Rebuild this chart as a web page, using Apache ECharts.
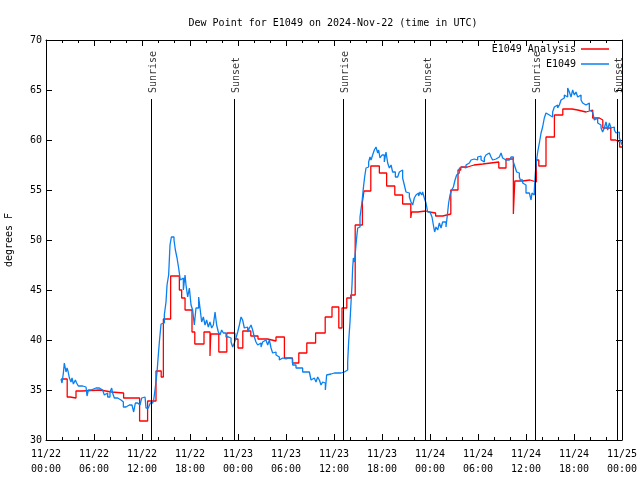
<!DOCTYPE html>
<html>
<head>
<meta charset="utf-8">
<script src="https://cdn.jsdelivr.net/npm/echarts@6/dist/echarts.min.js"></script>
<style>html,body{margin:0;padding:0;background:#fff;}#c{width:640px;height:480px;}</style>
</head>
<body>
<div id="c"></div>
<script>
// Hours since 2024-11-22 00:00 UTC
const analysisHours = [1.9, 2.65, 3.0, 3.75, 4.5, 6.75, 8.2, 9.7, 11.7, 12.7, 13.75, 14.4, 14.67, 15.58, 16.67, 16.96, 17.38, 18.25, 18.6, 19.75, 20.5, 20.6, 21.6, 22.6, 23.6, 24.0, 24.6, 25.6, 26.5, 27.7, 28.75, 29.8, 30.8, 31.6, 32.6, 33.7, 34.9, 35.75, 36.6, 37.0, 37.6, 38.1, 38.65, 39.55, 39.75, 40.6, 41.67, 42.58, 43.6, 44.58, 45.6, 45.7, 46.46, 47.5, 47.9, 48.7, 49.6, 50.6, 51.5, 51.85, 52.7, 53.5, 54.6, 56.6, 57.5, 58.42, 58.6, 59.6, 60.5, 61.3, 61.6, 62.5, 63.55, 64.6, 65.75, 66.45, 67.5, 68.33, 69.17, 69.6, 70.6, 71.2, 71.7, 72.0];
const analysisValues = [36.1, 34.3, 34.2, 34.9, 35.0, 34.8, 34.7, 34.2, 31.9, 33.9, 36.9, 36.3, 42.1, 46.4, 45.0, 44.2, 43.0, 40.8, 39.6, 40.8, 38.4, 40.6, 38.8, 40.7, 40.1, 39.2, 40.9, 40.4, 40.1, 39.9, 40.3, 38.2, 37.7, 38.7, 39.7, 40.7, 42.3, 43.3, 41.2, 43.2, 44.2, 44.5, 51.5, 53.8, 54.9, 57.4, 56.7, 55.4, 54.5, 53.6, 52.2, 52.8, 52.9, 52.8, 52.7, 52.4, 52.6, 55.0, 57.0, 57.3, 57.5, 57.6, 57.8, 57.2, 58.1, 52.6, 55.9, 56.0, 55.8, 58.0, 57.4, 60.3, 62.5, 63.1, 63.0, 62.8, 63.0, 62.2, 62.0, 61.2, 60.0, 59.8, 59.3, 59.3];

const obsHours = [1.88,2.0,2.17,2.29,2.42,2.5,2.63,2.75,2.92,3.13,3.25,3.42,3.67,3.83,4.04,4.58,5.0,5.13,5.29,5.63,6.25,6.67,7.08,7.29,7.5,7.71,8.0,8.21,8.33,8.54,8.96,9.38,9.67,10.0,10.42,10.75,10.96,11.17,11.46,11.75,11.96,12.17,12.38,12.5,12.79,13.04,13.33,13.46,13.67,13.88,14.04,14.17,14.38,14.58,14.79,15.0,15.13,15.33,15.5,15.67,15.83,16.0,16.17,16.38,16.58,16.79,16.96,17.17,17.38,17.5,17.71,17.92,18.13,18.33,18.54,18.75,19.08,19.25,19.46,19.67,19.88,20.08,20.29,20.5,20.71,20.92,21.13,21.33,21.54,21.75,21.96,22.17,22.5,22.83,23.13,23.33,23.54,
23.75,23.96,24.17,24.38,24.58,24.79,25.0,25.21,25.42,25.63,25.83,26.04,26.25,26.46,26.67,26.88,27.08,27.29,27.5,27.71,27.92,28.13,28.33,28.54,28.75,28.96,29.17,29.38,29.58,29.79,30.0,30.42,30.83,31.25,31.67,32.08,32.5,32.92,33.13,33.33,33.54,33.75,33.96,34.17,34.38,34.58,34.79,34.92,35.08,35.33,35.63,36.04,36.46,36.88,37.08,37.29,37.5,37.71,37.83,38.0,38.13,38.25,38.33,38.42,38.54,38.67,38.83,38.96,39.08,39.25,39.5,39.67,39.83,40.0,40.13,40.33,40.5,40.63,40.83,41.04,41.25,41.46,41.58,41.75,42.0,42.29,42.5,42.71,42.92,43.13,43.33,43.67,43.96,44.17,44.38,44.58,44.79,45.0,45.21,45.42,45.63,45.83,46.04,46.25,46.46,46.58,46.75,46.96,47.08,47.29,
47.5,47.71,48.0,48.25,48.42,48.58,48.75,48.96,49.17,49.38,49.58,49.79,50.0,50.21,50.33,50.5,50.71,50.92,51.13,51.33,51.54,51.67,51.88,52.08,52.29,52.5,52.71,52.92,53.13,53.33,53.54,53.75,53.96,54.17,54.38,54.58,54.79,55.0,55.21,55.42,55.63,55.83,56.04,56.25,56.46,56.67,56.88,57.08,57.29,57.5,57.71,57.92,58.13,58.33,58.42,58.54,58.67,58.83,59.0,59.17,59.29,59.42,59.58,59.79,60.0,60.21,60.42,60.63,60.75,60.92,61.04,61.17,61.33,61.46,61.67,61.88,62.08,62.29,62.5,62.71,62.92,63.13,63.33,63.54,63.75,63.96,64.17,64.38,64.58,64.79,65.0,65.21,65.42,65.63,65.83,66.04,66.25,66.46,66.67,66.88,67.08,67.29,67.5,67.71,67.92,68.13,68.33,68.54,68.75,68.96,69.17,69.38,69.58,69.79,70.0,70.21,70.42,70.63,70.83,71.04,71.25,71.46,71.67,71.88,72.0];
const obsValues = [36.1,35.7,36.7,37.7,37.8,36.8,37.2,36.9,36.2,35.8,36.2,35.6,36.0,35.7,35.4,35.3,35.2,34.4,35.0,35.2,35.2,35.0,34.9,34.5,34.7,34.3,34.8,35.2,34.7,34.2,34.0,33.8,33.3,33.5,33.5,33.5,32.8,33.7,33.5,33.5,34.2,34.3,34.2,33.2,33.3,33.7,33.5,34.0,35.3,36.8,38.5,39.8,41.6,41.7,42.5,43.8,45.5,46.5,49.5,50.3,50.3,50.0,49.0,48.2,47.2,46.0,46.2,45.0,46.5,45.5,44.3,45.2,43.5,43.0,41.5,43.2,44.3,43.2,41.8,42.3,41.5,42.0,41.3,41.8,41.2,41.5,42.8,41.5,40.8,40.5,41.0,40.7,40.3,40.2,39.8,39.3,39.7,
40.2,40.8,41.5,42.3,42.0,41.2,41.3,40.8,41.2,41.5,41.0,40.3,39.8,39.5,39.7,39.3,39.8,40.0,40.0,39.5,40.0,39.2,38.7,38.8,38.5,38.3,38.0,38.2,38.0,38.1,38.2,38.1,37.5,37.2,37.2,36.8,36.8,36.8,36.0,36.2,36.3,35.8,36.3,36.0,35.5,35.8,35.7,35.0,36.5,36.6,36.7,36.7,36.7,36.8,36.8,36.8,37.0,37.8,39.8,41.8,43.8,45.5,47.2,48.2,47.8,48.8,50.2,51.2,51.3,52.3,53.8,55.2,56.3,57.2,57.3,57.8,58.3,58.0,58.5,59.0,59.3,58.7,59.0,58.2,58.5,57.8,58.8,57.7,57.2,57.5,56.8,56.3,56.3,56.8,57.0,56.2,55.5,54.8,54.7,54.3,53.8,53.5,54.2,54.5,54.7,54.4,54.8,54.5,54.8,54.2,
53.7,52.8,52.7,52.3,51.5,50.8,51.3,51.0,51.7,51.2,51.8,51.8,51.3,52.8,53.7,54.5,55.0,55.3,56.0,56.5,56.7,57.2,57.3,57.5,57.2,57.5,57.7,57.7,58.0,58.1,58.2,58.0,58.3,58.4,58.0,57.8,58.2,58.5,58.7,58.7,58.3,58.0,58.1,58.2,58.3,58.5,58.7,58.2,58.0,57.8,58.0,58.2,58.3,58.3,57.8,58.0,57.2,56.8,56.7,56.3,56.0,56.0,55.7,55.5,54.7,54.7,54.5,54.0,54.7,54.5,55.0,56.7,58.0,58.8,59.7,60.7,61.3,62.2,62.7,62.5,62.7,62.3,62.8,63.3,63.5,63.2,63.5,64.0,64.2,64.5,64.3,65.2,64.8,64.3,65.0,64.5,64.8,64.3,64.5,64.0,63.7,63.5,63.3,63.7,63.0,62.8,62.7,62.0,62.2,61.7,61.5,61.2,60.8,61.2,61.8,61.0,61.7,61.2,61.3,61.0,60.7,60.8,60.2,59.8,59.5];

const sunHours = [13.15, 23.55, 37.15, 47.45, 61.1, 71.4];
const sunLabels = ['Sunrise', 'Sunset', 'Sunrise', 'Sunset', 'Sunrise', 'Sunset'];
const sunLineTop = 64.1;
const sunLabelBase = 64.7;

const seriesNames = ['E1049 Analysis', 'E1049'];
const titleText = 'Dew Point for E1049 on 2024-Nov-22 (time in UTC)';
const yName = 'degrees F';
const xMin = 0, xMax = 72, xStep = 6;
const yMin = 30, yMax = 70, yStep = 5;
const dayStart = 22;

const FONT = 'DejaVu Sans Mono';
const txt = {fontFamily: FONT, fontSize: 10, color: '#000'};

function xLabel(v) {
  const d = dayStart + Math.floor(v / 24);
  const hh = v % 24;
  return '11/' + d + '\n' + String(hh).padStart(2, '0') + ':00';
}

const chart = echarts.init(document.getElementById('c'), null, {renderer: 'canvas'});
const baseX = {
  type: 'value', min: xMin, max: xMax, interval: xStep,
  axisLine: {show: true, onZero: false, lineStyle: {color: '#000', width: 1}},
  axisTick: {show: true, inside: true, length: 6, lineStyle: {color: '#000'}},
  minorTick: {show: true, splitNumber: 3, length: 3, lineStyle: {color: '#000'}},
  splitLine: {show: false}, minorSplitLine: {show: false}
};
const baseY = {
  type: 'value', min: yMin, max: yMax, interval: yStep,
  axisLine: {show: true, onZero: false, lineStyle: {color: '#000', width: 1}},
  axisTick: {show: true, inside: true, length: 6, lineStyle: {color: '#000'}},
  splitLine: {show: false}
};

chart.setOption({
  animation: false,
  backgroundColor: '#fff',
  title: {
    text: titleText, left: 328, top: 13, textAlign: 'center',
    textStyle: Object.assign({fontWeight: 'normal'}, txt)
  },
  legend: {
    data: seriesNames.map(n => ({name: n, icon: 'rect'})),
    orient: 'vertical', right: 26, top: 38, align: 'right',
    itemWidth: 28, itemHeight: 1.5, itemGap: 3, selectedMode: false,
    textStyle: Object.assign({lineHeight: 12}, txt)
  },
  grid: {left: 46, right: 18, top: 40, bottom: 40, containLabel: false, outerBoundsMode: 'none'},
  xAxis: [
    Object.assign({}, baseX, {position: 'bottom',
      axisLabel: Object.assign({show: true, margin: 7, lineHeight: 15, formatter: xLabel, showMinLabel: true, showMaxLabel: true}, txt)}),
    Object.assign({}, baseX, {position: 'top', axisLabel: {show: false}})
  ],
  yAxis: [
    Object.assign({}, baseY, {position: 'left',
      name: yName, nameLocation: 'middle', nameGap: 32, nameRotate: 90, nameTextStyle: txt,
      axisLabel: Object.assign({show: true, margin: 4}, txt)}),
    Object.assign({}, baseY, {position: 'right', axisLabel: {show: false}})
  ],
  series: [
    {
      name: seriesNames[0], type: 'line', step: 'end', symbol: 'none',
      data: analysisHours.map((h, i) => [h, analysisValues[i]]),
      lineStyle: {color: '#ff0000', width: 1.3}, itemStyle: {color: '#ff0000'}
    },
    {
      name: seriesNames[1], type: 'line', step: 'end', symbol: 'none',
      data: obsHours.map((h, i) => [h, obsValues[i]]),
      lineStyle: {color: '#0a80f0', width: 1.3}, itemStyle: {color: '#0a80f0'}
    },
    {
      name: 'sun', type: 'scatter', symbolSize: 0, silent: true,
      data: sunHours.map(h => [h, sunLabelBase]),
      label: Object.assign({show: true, position: 'inside', rotate: 90, align: 'left', verticalAlign: 'middle',
        offset: [0, 2.5], formatter: p => sunLabels[p.dataIndex]}, txt),
      markLine: {
        symbol: 'none', silent: true, animation: false,
        lineStyle: {color: '#000', width: 1, type: 'solid'},
        label: {show: false},
        data: sunHours.map(h => [{coord: [h, yMin]}, {coord: [h, sunLineTop]}])
      }
    }
  ]
});
</script>
</body>
</html>
